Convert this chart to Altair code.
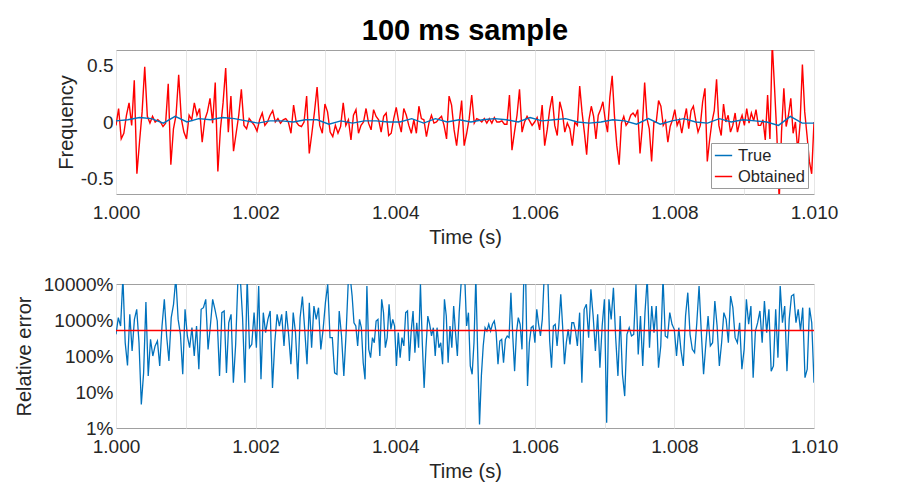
import altair as alt
import numpy as np
import pandas as pd

FONT = "Liberation Sans"

# time bounds of the three reading segments (s)
SEG_EDGES = [1.000, 1.00333, 1.00661, 1.010]

# "Obtained" frequency (red), read in three segments
RED_SEG1 = [-0.03, 0.12, -0.15, -0.10, 0.06, 0.17, -0.03, 0.37, -0.46, -0.18, 0.09, 0.49, 0.05, -0.01,
            0.05, 0.00, 0.02, 0.00, -0.04, -0.01, 0.34, -0.38, -0.06, 0.06, 0.42, 0.03, -0.09, -0.15,
            0.06, 0.02, 0.17, 0.06, 0.12, -0.18, 0.02, 0.09, 0.21, -0.01, 0.35, -0.44, -0.06, 0.17,
            0.48, -0.09, 0.23, -0.26, -0.10, 0.06, 0.29, -0.03, -0.06, 0.03, 0.00, -0.03, -0.08, 0.02,
            0.08, -0.03, 0.00, 0.06, 0.10, 0.00, 0.03, -0.01, 0.02, 0.03, 0.00, -0.10, 0.15, 0.00,
            -0.03, -0.04, 0.00, 0.23, -0.28, -0.10, 0.09, 0.31, -0.03, -0.10, 0.16, 0.09, -0.09, -0.13,
            -0.03, -0.10, -0.04, 0.17, -0.03]
RED_SEG2 = [0.02, -0.16, 0.06, 0.11, -0.10, -0.03, 0.00, 0.12, -0.01, -0.07, 0.11, 0.05, 0.02, -0.09,
            0.05, 0.08, -0.12, -0.10, 0.03, 0.13, 0.00, -0.09, 0.12, 0.06, -0.03, -0.10, 0.02, -0.10,
            0.14, 0.03, 0.02, -0.13, -0.01, 0.06, -0.01, 0.00, 0.03, 0.05, -0.03, -0.15, 0.23, 0.15,
            -0.07, -0.21, -0.01, 0.19, -0.21, -0.10, 0.03, 0.24, -0.01, 0.03, 0.02, 0.00, 0.03, -0.01,
            0.03, -0.01, 0.04, 0.00, 0.00, 0.01, -0.02, -0.02, 0.24, -0.25, -0.09, 0.06, 0.29, -0.09,
            0.00, 0.05, 0.01, -0.03, 0.00, 0.04, -0.07, 0.15, -0.21, -0.07, 0.11, 0.23, -0.03, -0.12,
            0.18, 0.09, -0.09, -0.01, -0.06, -0.21, 0.00]
RED_SEG3 = [-0.03, 0.32, 0.09, -0.09, -0.29, 0.02, 0.14, 0.05, -0.15, 0.06, 0.11, 0.18, 0.02, -0.09,
            0.22, 0.41, 0.05, -0.21, -0.38, -0.01, 0.05, -0.03, 0.00, 0.06, 0.08, 0.05, 0.11, -0.28,
            -0.04, 0.35, 0.03, -0.06, -0.35, 0.00, 0.00, 0.19, 0.14, -0.03, 0.01, -0.18, -0.04, 0.02,
            0.11, -0.03, 0.02, -0.10, 0.02, 0.12, -0.06, 0.10, 0.14, 0.02, -0.09, -0.03, 0.18, 0.30,
            -0.35, -0.16, 0.00, 0.10, 0.38, -0.03, -0.12, 0.16, 0.00, 0.06, -0.09, -0.03, 0.08, -0.09,
            0.00, 0.06, -0.03, 0.12, -0.01, 0.08, 0.01, 0.11, -0.03, -0.03, 0.02, -0.16, 0.24, -0.15,
            0.70, 0.30, -0.12, -0.70, -0.09, 0.30, -0.04, 0.06, 0.21, -0.10, 0.00, -0.26, -0.01, 0.51,
            0.09, -0.12, -0.35, -0.46, 0.00]

# "True" frequency (blue), evenly spread over the window
TRUE_VALS = [0.01, 0.02, 0.04, 0.03, -0.01, 0.05, 0.00, 0.03, 0.02, 0.04, 0.03, 0.01, -0.01, 0.01,
             0.01, 0.00, 0.02, 0.02, -0.02, 0.01, -0.01, 0.01, 0.01, 0.00, 0.00, 0.03, -0.01, 0.03,
             0.00, 0.02, 0.00, 0.02, 0.03, 0.02, 0.00, 0.04, 0.01, 0.02, 0.03, 0.00, -0.01, 0.00,
             0.02, 0.01, -0.02, 0.03, -0.02, 0.01, 0.03, 0.00, -0.01, 0.03, 0.00, 0.02, 0.01, 0.00,
             -0.03, 0.05, -0.01, -0.01]

# relative error (%), read in three segments
ERR_SEG1 = [400, 1160, 680, 15000, 234, 55, 1440, 138, 1040, 1980, 234, 4.5, 34, 3160, 28, 290, 100,
            190, 261, 53, 680, 3750, 360, 73, 1160, 2720, 15000, 1040, 400, 31, 1980, 360, 170, 612,
            100, 680, 43, 1980, 2200, 3750, 153, 680, 3750, 1980, 940, 28, 1600, 1780, 34, 840, 1440,
            18, 211, 15000, 15000, 1160, 18, 15000, 170, 211, 1600, 170, 8800, 22.5, 1600, 445, 1040,
            1780, 13, 234, 1440, 680, 1440, 190, 1780, 400, 59, 1600, 445, 22.5, 1160, 4450, 550, 59,
            3030, 170, 2450, 1040, 2200, 153, 550, 3030, 9800, 323, 323, 34, 31, 1780, 360, 28, 445]
ERR_SEG2 = [15000, 15000, 4640, 840, 680, 190, 1040, 612, 65, 22.5, 8800, 153, 90, 323, 234, 940, 1040,
            100, 3750, 1600, 170, 323, 2720, 550, 1040, 680, 53, 445, 90, 323, 190, 1600, 1780, 73,
            494, 1780, 124, 840, 170, 9790, 234, 13, 170, 1290, 760, 360, 612, 100, 612, 170, 234, 59,
            3750, 1290, 65, 680, 170, 2450, 445, 100, 1600, 9790, 15000, 15000, 680, 1600, 53, 31,
            234, 15000, 124, 1.26, 28, 190, 612, 494, 760, 494, 760, 940, 445, 59, 261, 290, 65, 290,
            360, 323, 5740, 360, 38, 445, 1160, 760, 153, 15000, 15000, 14.7, 234, 612, 680, 234,
            1980, 760, 360, 1040, 15000, 15000, 15000, 261, 47, 680, 760, 190, 760, 5160, 680, 59,
            234, 550, 211, 840, 840, 494]
ERR_SEG3 = [190, 1600, 18, 1980, 2720, 323, 7100, 1290, 138, 1440, 47, 680, 3750, 1.4, 3750, 1040,
            7900, 323, 28, 1290, 31, 7.7, 400, 612, 360, 400, 9790, 111, 1290, 53, 1600, 15000, 170,
            2450, 445, 2450, 47, 190, 15000, 360, 323, 1600, 760, 550, 100, 612, 138, 53, 1290, 5740,
            400, 153, 124, 840, 8800, 445, 31, 211, 1290, 190, 234, 3370, 680, 53, 234, 1600, 1040,
            234, 4640, 2200, 323, 234, 840, 43, 153, 3750, 760, 2450, 25, 494, 840, 1780, 234, 3370,
            445, 1980, 38, 53, 1980, 90, 8800, 840, 2450, 38, 1040, 4640, 5160, 840, 1980, 494, 2200,
            25, 43, 2200, 840, 18]
MEAN_ERR = 510

X_TICKS = [1.000, 1.001, 1.002, 1.003, 1.004, 1.005, 1.006, 1.007, 1.008, 1.009, 1.010]
FREQ_TICKS = [-0.5, 0, 0.5]
ERR_TICKS = [1, 10, 100, 1000, 10000]
SERIES = ["True", "Obtained"]
COLORS = ["#0072BD", "#FF0000"]


def seg_times(segs):
    t = []
    for i, s in enumerate(segs):
        last = i == len(segs) - 1
        t.extend(np.linspace(SEG_EDGES[i], SEG_EDGES[i + 1], len(s), endpoint=last))
    return t


red_vals = RED_SEG1 + RED_SEG2 + RED_SEG3
err_vals = ERR_SEG1 + ERR_SEG2 + ERR_SEG3

df_top = pd.concat([
    pd.DataFrame({"t": seg_times([RED_SEG1, RED_SEG2, RED_SEG3]), "v": red_vals,
                  "series": "Obtained", "k": 0}),
    pd.DataFrame({"t": np.linspace(1.0, 1.01, len(TRUE_VALS)), "v": TRUE_VALS,
                  "series": "True", "k": 1}),
], ignore_index=True)
df_err = pd.DataFrame({"t": seg_times([ERR_SEG1, ERR_SEG2, ERR_SEG3]), "v": err_vals})
df_mean = pd.DataFrame({"v": [MEAN_ERR]})

W, H = 698, 144
TXT = "#262626"


def x_enc():
    return alt.X(
        "t:Q",
        title="Time (s)",
        scale=alt.Scale(domain=[1.0, 1.01], nice=False, zero=False),
        axis=alt.Axis(
            values=X_TICKS,
            labelExpr="round(datum.value*1000) % 2 == 0 ? format(datum.value, '.3f') : ''",
            grid=True, gridColor="#e6e6e6", gridWidth=1,
            ticks=False, domain=False, labelFlush=False, labelOverlap=False,
            labelPadding=9, titlePadding=5,
        ),
    )


top = alt.Chart(df_top).mark_line(strokeWidth=1.4, clip=True).encode(
    x=x_enc(),
    y=alt.Y(
        "v:Q",
        title="Frequency",
        scale=alt.Scale(domain=[-0.64, 0.64], nice=False, zero=False),
        axis=alt.Axis(
            values=FREQ_TICKS,
            labelExpr="datum.value == 0 ? '0' : (datum.value < 0 ? '-' : '') + format(abs(datum.value), '.1f')",
            grid=False, ticks=False, domain=False, labelPadding=3, titlePadding=4,
        ),
    ),
    color=alt.Color(
        "series:N",
        title=None,
        scale=alt.Scale(domain=SERIES, range=COLORS),
        legend=alt.Legend(
            orient="none", legendX=595, legendY=93, direction="vertical",
            fillColor="white", strokeColor="#9a9a9a", padding=3,
            symbolType="stroke", symbolSize=300, symbolStrokeWidth=1.5,
            labelFontSize=16.5, labelFont=FONT, labelColor=TXT, labelOffset=5,
            rowPadding=3,
        ),
    ),
    order=alt.Order("k:Q"),
).properties(
    width=W, height=H,
    title=alt.Title("100 ms sample", fontSize=29, fontWeight="bold", font=FONT,
                    color="black", anchor="middle", frame="group", offset=4),
)

err_line = alt.Chart(df_err).mark_line(strokeWidth=1.3, color="#0072BD", clip=True).encode(
    x=x_enc(),
    y=alt.Y(
        "v:Q",
        title="Relative error",
        scale=alt.Scale(type="log", domain=[1, 10000], nice=False),
        axis=alt.Axis(
            values=ERR_TICKS, labelExpr="format(datum.value, 'd') + '%'",
            grid=False, ticks=False, domain=False, labelPadding=3, titlePadding=9,
        ),
    ),
)
err_mean = alt.Chart(df_mean).mark_rule(color="#FF0000", strokeWidth=1.5).encode(y="v:Q")
bottom = alt.layer(err_line, err_mean).properties(width=W, height=H)

chart = alt.vconcat(top, bottom, spacing=26).configure_view(
    stroke="#a0a0a0", strokeWidth=1
).configure_axis(
    labelFont=FONT, titleFont=FONT, labelFontSize=19, titleFontSize=20,
    labelColor=TXT, titleColor=TXT, titleFontWeight="normal",
).properties(
    background="white",
    padding={"left": 5, "top": 8, "right": 5, "bottom": 5},
)

chart.save("out.html", embed_options={"renderer": "svg", "actions": False})
